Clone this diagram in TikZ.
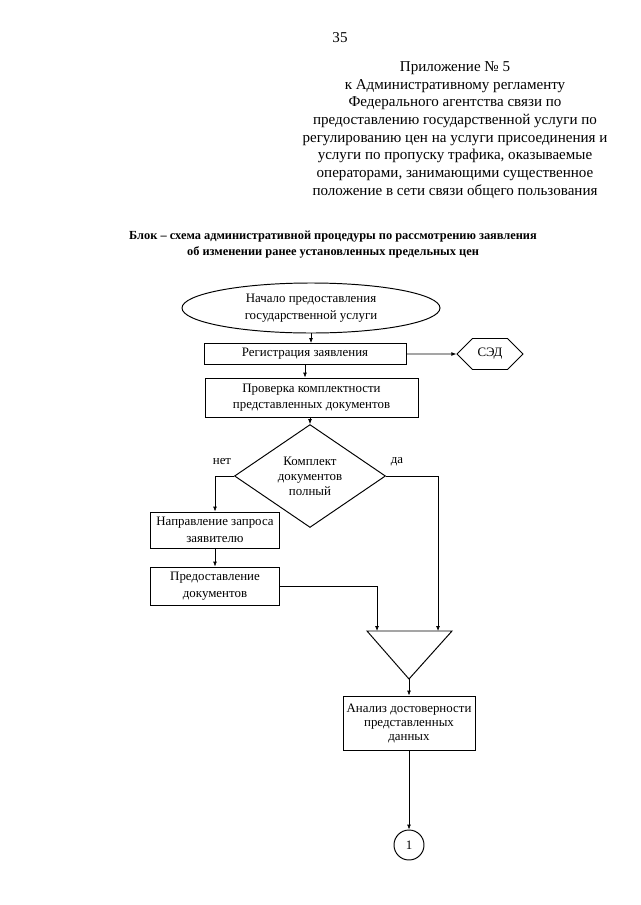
\documentclass[tikz,border=0pt]{standalone}
\usepackage{fontspec}
\setmainfont{Liberation Serif}
\usetikzlibrary{shapes.geometric,shapes.symbols,arrows.meta}
\newdimen\pxu
\pxu=0.9297pt
\begin{document}
\begin{tikzpicture}[x=\pxu,y=-\pxu,
        txt/.style={font=\fontsize{12}{15.5}\selectfont,align=center,inner sep=0pt},
        box/.style={txt,draw,line width=0.9pt},
        conn/.style={line width=0.6pt,-{Latex[length=4.5pt,width=3.5pt]}}]
        \useasboundingbox (0,0) rectangle (640,905);
        %% Header
        \node[txt,font=\fontsize{14}{16.4}\selectfont] (page) at (340,38) {35};
        \node[txt,font=\fontsize{14}{16.4}\selectfont] (appx) at (455,130) {Приложение № 5\\
            к Административному регламенту\\
            Федерального агентства связи по\\
            предоставлению государственной услуги по\\
            регулированию цен на услуги присоединения и\\
            услуги по пропуску трафика, оказываемые\\
            операторами, занимающими существенное\\
            положение в сети связи общего пользования};
        \node[txt,font=\fontsize{11.5}{15}\selectfont\bfseries] (title) at (333,245) {Блок – схема административной процедуры по рассмотрению заявления\\
            об изменении ранее установленных предельных цен};
        %% Blocks
        \node[txt,draw,line width=0.9pt,ellipse,minimum width=258\pxu,minimum height=50\pxu] (start) at (311,308) {Начало предоставления\\государственной услуги};
        \node[box,minimum width=202\pxu,minimum height=21\pxu] (reg) at (305,354) {Регистрация заявления};
        \node[box,signal,signal to=west and east,minimum width=66\pxu,minimum height=31\pxu] (sed) at (490,354) {СЭД};
        \node[box,minimum width=213\pxu,minimum height=39\pxu] (chk) at (311.5,397.5) {Проверка комплектности\\представленных документов};
        \node[box,diamond,font=\fontsize{12}{14}\selectfont,minimum width=151\pxu,minimum height=90\pxu] (full) at (310,476) {Комплект\\документов\\полный};
        \node[box,minimum width=129\pxu,minimum height=36\pxu] (req) at (215,530) {Направление запроса\\заявителю};
        \node[box,minimum width=129\pxu,minimum height=38\pxu] (docs) at (215,586) {Предоставление\\документов};
        \node[box,font=\fontsize{12}{13}\selectfont,minimum width=132\pxu,minimum height=54\pxu] (anl) at (409,723) {Анализ достоверности\\представленных\\данных};
        \node[box,circle,minimum size=30\pxu] (next) at (409,845) {1};
        %% Merge
        \coordinate (mtl) at (367,631);
        \coordinate (mtr) at (452,631);
        \coordinate (mbt) at (409,679);
        \coordinate (min1) at (377,631);
        \coordinate (min2) at (438,631);
        \draw[line width=0.9pt] (mtl) -- (mtr) -- (mbt) -- cycle;
        %% Labels
        \node[txt] (no) at (222,462) {нет};
        \node[txt] (yes) at (397,462) {да};
        %% Connectors
        \draw[conn] (start.south) -- (start.south |- reg.north);
        \draw[conn] (reg) -- (sed);
        \draw[conn] (reg.south) -- (reg.south |- chk.north);
        \draw[conn] (full.north |- chk.south) -- (full.north);
        \draw[conn] (full.west) -| (req.north);
        \draw[conn] (req) -- (docs);
        \draw[conn] (docs.east) -| (min1);
        \draw[conn] (full.east) -| (min2);
        \draw[conn] (mbt) -- (anl);
        \draw[conn] (anl) -- (next);
    \end{tikzpicture}
\end{document}
